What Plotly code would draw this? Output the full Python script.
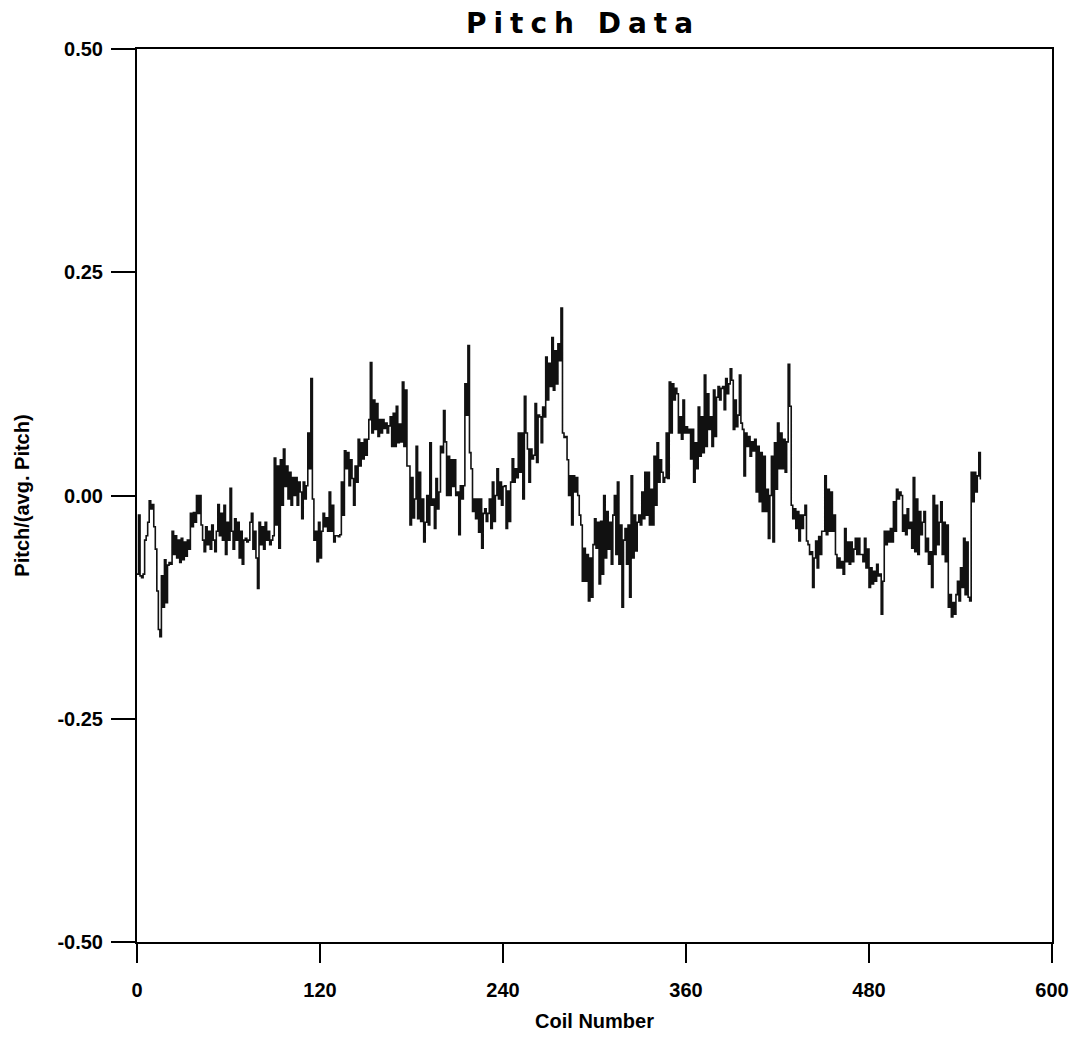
import plotly.graph_objects as go

# Pitch / (avg. Pitch) for each coil, coil numbers 0..553
pitch_ratio = [
    -0.088, -0.022, -0.090, -0.092, -0.088, -0.050, -0.045, -0.030, -0.006, -0.015,
    -0.010, -0.035, -0.060, -0.107, -0.150, -0.158, -0.090, -0.125, -0.072, -0.120,
    -0.078, -0.075, -0.077, -0.040, -0.066, -0.045, -0.070, -0.050, -0.075, -0.048,
    -0.072, -0.052, -0.068, -0.050, -0.060, -0.020, -0.035, -0.019, -0.030, 0.000,
    -0.020, 0.000, -0.033, -0.050, -0.063, -0.035, -0.055, -0.040, -0.060, -0.033,
    -0.050, -0.063, -0.040, -0.010, -0.045, -0.020, -0.050, -0.011, -0.066, -0.030,
    -0.050, 0.008, -0.040, -0.060, -0.026, -0.050, -0.030, -0.070, -0.040, -0.077,
    -0.050, -0.048, -0.052, -0.050, -0.030, -0.020, -0.060, -0.040, -0.070, -0.104,
    -0.030, -0.055, -0.035, -0.060, -0.030, -0.050, -0.040, -0.055, -0.050, -0.045,
    0.042, -0.033, 0.033, -0.059, 0.040, -0.011, 0.052, 0.010, 0.033, -0.004,
    0.026, -0.011, 0.020, 0.000, 0.020, -0.011, 0.015, 0.004, -0.026, 0.015,
    -0.004, 0.011, 0.070, 0.030, 0.131, -0.004, -0.050, -0.040, -0.074, -0.030,
    -0.070, -0.040, -0.020, -0.035, -0.025, -0.040, 0.004, -0.040, -0.011, -0.052,
    -0.045, -0.045, -0.046, -0.044, 0.015, -0.022, 0.050, 0.030, 0.048, 0.011,
    0.040, 0.019, -0.011, 0.033, 0.015, 0.063, 0.033, 0.059, 0.041, 0.063,
    0.045, 0.063, 0.085, 0.149, 0.070, 0.107, 0.074, 0.103, 0.066, 0.085,
    0.070, 0.085, 0.075, 0.081, 0.070, 0.078, 0.088, 0.055, 0.092, 0.055,
    0.100, 0.059, 0.080, 0.060, 0.127, 0.055, 0.118, 0.033, 0.033, -0.033,
    0.020, -0.025, -0.004, 0.055, -0.026, 0.026, -0.029, -0.004, -0.052, -0.030,
    0.000, -0.033, 0.059, -0.011, -0.004, -0.037, 0.019, -0.015, 0.004, 0.055,
    0.048, 0.095, 0.060, 0.000, 0.044, 0.000, 0.040, 0.010, 0.040, 0.000,
    0.004, -0.044, 0.011, -0.004, 0.011, 0.125, 0.090, 0.168, 0.048, 0.030,
    -0.018, -0.004, -0.026, -0.004, -0.041, -0.004, -0.059, -0.020, -0.015, -0.029,
    -0.020, -0.004, -0.037, 0.015, -0.029, 0.000, 0.030, -0.004, 0.015, -0.011,
    0.010, 0.011, -0.037, 0.005, -0.029, 0.015, 0.041, 0.015, 0.030, 0.020,
    0.070, 0.026, 0.070, -0.004, 0.111, 0.070, 0.052, 0.015, 0.052, 0.041,
    0.045, 0.103, 0.037, 0.090, 0.088, 0.059, 0.099, 0.088, 0.155, 0.107,
    0.148, 0.122, 0.177, 0.118, 0.162, 0.125, 0.170, 0.151, 0.210, 0.070,
    0.065, 0.066, 0.040, 0.000, 0.022, -0.033, 0.022, 0.004, 0.020, 0.000,
    -0.022, -0.033, -0.096, -0.059, -0.096, -0.066, -0.118, -0.070, -0.114, -0.055,
    -0.026, -0.059, -0.030, -0.099, -0.029, -0.088, 0.000, -0.070, -0.018, -0.060,
    -0.030, -0.077, -0.022, 0.000, -0.066, 0.015, -0.077, -0.033, -0.125, -0.050,
    -0.037, -0.077, -0.033, -0.114, 0.022, -0.070, -0.022, -0.062, -0.030, -0.022,
    -0.033, 0.004, -0.026, 0.026, -0.022, 0.026, -0.033, 0.007, -0.033, 0.044,
    -0.011, 0.059, 0.015, 0.040, 0.026, 0.015, 0.020, 0.070, 0.019, 0.127,
    0.070, 0.125, 0.107, 0.120, 0.114, 0.070, 0.088, 0.063, 0.107, 0.070,
    0.077, 0.070, 0.074, 0.041, 0.074, 0.015, 0.059, 0.030, 0.099, 0.044,
    0.088, 0.048, 0.135, 0.055, 0.114, 0.074, 0.088, 0.055, 0.118, 0.066,
    0.110, 0.122, 0.107, 0.120, 0.122, 0.096, 0.131, 0.114, 0.125, 0.142,
    0.129, 0.074, 0.107, 0.077, 0.090, 0.135, 0.081, 0.074, 0.022, 0.070,
    0.055, 0.066, 0.044, 0.060, 0.050, 0.063, 0.004, 0.055, -0.007, 0.048,
    -0.018, 0.044, -0.018, 0.007, -0.048, 0.000, 0.044, -0.052, 0.059, 0.007,
    0.081, 0.030, 0.070, 0.030, 0.063, 0.026, 0.060, 0.147, 0.100, -0.011,
    -0.026, -0.015, -0.037, -0.018, -0.051, -0.022, -0.037, -0.022, -0.011, -0.051,
    -0.055, -0.066, -0.063, -0.103, -0.070, -0.051, -0.081, -0.046, -0.066, -0.040,
    -0.040, 0.022, -0.044, 0.007, -0.040, 0.004, -0.040, -0.022, -0.066, -0.081,
    -0.070, -0.081, -0.074, -0.088, -0.037, -0.074, -0.052, -0.077, -0.052, -0.074,
    -0.060, -0.048, -0.066, -0.048, -0.066, -0.066, -0.074, -0.048, -0.081, -0.060,
    -0.103, -0.081, -0.099, -0.085, -0.096, -0.077, -0.090, -0.088, -0.133, -0.096,
    -0.040, -0.055, -0.040, -0.052, -0.037, -0.052, -0.007, -0.040, 0.007, -0.004,
    0.004, 0.000, -0.040, -0.022, -0.044, -0.015, -0.037, -0.030, -0.059, 0.020,
    -0.063, -0.004, -0.066, -0.018, -0.044, -0.030, -0.018, -0.063, -0.048, -0.077,
    -0.063, -0.103, 0.000, -0.066, -0.011, -0.055, -0.030, -0.007, -0.066, -0.030,
    -0.074, -0.033, -0.125, -0.111, -0.136, -0.120, -0.133, -0.111, -0.096, -0.118,
    -0.081, -0.103, -0.048, -0.111, -0.052, -0.114, -0.118, 0.026, -0.007, 0.026,
    0.004, 0.022, 0.048, 0.018,
]
coil_number = list(range(len(pitch_ratio)))

x_ticks = [0, 120, 240, 360, 480, 600]
y_ticks = [-0.50, -0.25, 0.00, 0.25, 0.50]
y_tick_text = ["-0.50", "-0.25", "0.00", "0.25", "0.50"]

FONT = "Liberation Sans, Arial, sans-serif"

fig = go.Figure()
fig.add_trace(go.Scatter(
    x=coil_number, y=pitch_ratio, mode="lines",
    line=dict(color="#111111", width=1.6, shape="hv"),
    showlegend=False,
))

fig.update_layout(
    width=1085, height=1041,
    margin=dict(l=137, r=33, t=49, b=90),
    paper_bgcolor="white", plot_bgcolor="white",
    font=dict(family=FONT, color="black"),
    title=dict(
        text='<span style="letter-spacing:7px">Pitch Data</span>',
        font=dict(family="DejaVu Sans, Liberation Sans, sans-serif", size=28, color="black", weight="bold"),
        x=583 / 1085, xref="container", xanchor="center",
        y=1 - 23 / 1041, yref="container", yanchor="middle",
    ),
)

fig.update_xaxes(
    range=[0, 600], tickvals=x_ticks, ticktext=[str(v) for v in x_ticks],
    showgrid=False, zeroline=False,
    showline=True, linecolor="black", linewidth=2, mirror=True,
    ticks="outside", ticklen=19, tickwidth=2, tickcolor="black",
    ticklabelstandoff=10,
    tickfont=dict(family=FONT, size=20, color="black", weight="bold"),
    title=dict(text="Coil Number", standoff=14,
               font=dict(family=FONT, size=20, color="black", weight="bold")),
)
fig.update_yaxes(
    range=[-0.5, 0.5], tickvals=y_ticks, ticktext=y_tick_text,
    showgrid=False, zeroline=False,
    showline=True, linecolor="black", linewidth=2, mirror=True,
    ticks="outside", ticklen=24, tickwidth=2, tickcolor="black",
    ticklabelstandoff=4,
    tickfont=dict(family=FONT, size=20, color="black", weight="bold"),
    title=dict(text="Pitch/(avg. Pitch)", standoff=22,
               font=dict(family=FONT, size=20, color="black", weight="bold")),
)

fig.write_html("out.html")
